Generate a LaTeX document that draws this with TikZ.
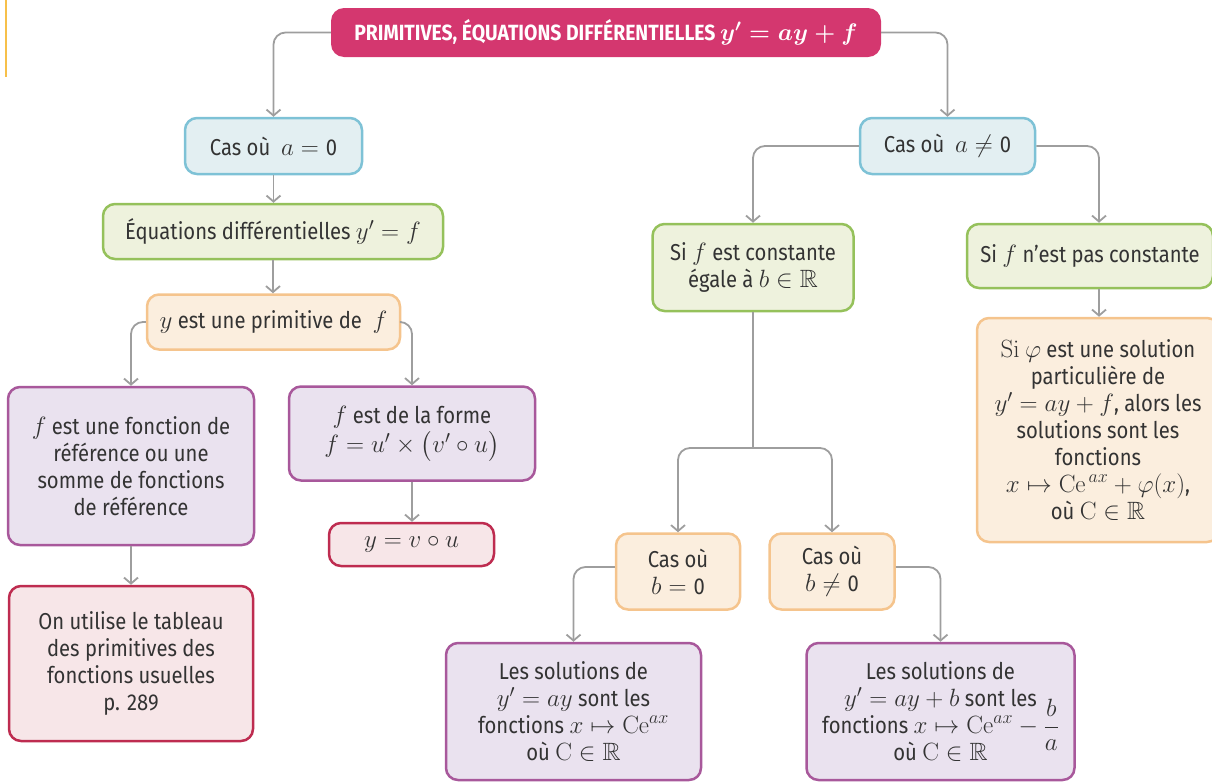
\RequirePackage{fix-cm}
\documentclass[tikz,border=0pt]{standalone}
\usepackage{amsmath,amssymb}
\usepackage{fontspec}
\setmainfont{Fira Sans}[FakeStretch=0.88]
\usetikzlibrary{arrows.meta}
\DeclareMathAlphabet{\mathcm}{OT1}{cmr}{m}{n}
\DeclareMathSizes{23}{25}{18}{14}
\DeclareMathSizes{22}{24}{17}{13}
\definecolor{titleF}{HTML}{D4376F}
\definecolor{blueF}{HTML}{E3EFF2}
\definecolor{blueB}{HTML}{7EC2D6}
\definecolor{greenF}{HTML}{EEF2DD}
\definecolor{greenB}{HTML}{95C15B}
\definecolor{orangeF}{HTML}{FBEEDE}
\definecolor{orangeB}{HTML}{F5C48D}
\definecolor{purpleF}{HTML}{EAE2EF}
\definecolor{purpleB}{HTML}{A8589B}
\definecolor{pinkF}{HTML}{F7E6E8}
\definecolor{pinkB}{HTML}{BE2C50}
\definecolor{arrowC}{HTML}{9E9E9E}
\definecolor{txt}{HTML}{333333}
\definecolor{yellowL}{HTML}{F7C04A}
\tikzset{
  mybox/.style={rounded corners=12pt, line width=2.5pt, align=center, text=txt,
    font=\fontsize{23}{27}\selectfont, inner sep=0pt},
  bluebox/.style={mybox, draw=blueB, fill=blueF},
  greenbox/.style={mybox, draw=greenB, fill=greenF},
  orangebox/.style={mybox, draw=orangeB, fill=orangeF},
  purplebox/.style={mybox, draw=purpleB, fill=purpleF},
  pinkbox/.style={mybox, draw=pinkB, fill=pinkF},
  titlebox/.style={rounded corners=13pt, fill=titleF, text=white, align=center,
    font=\bfseries\fontsize{22}{26}\selectfont, inner sep=0pt},
  arr/.style={draw=arrowC, line width=1.8pt, rounded corners=12pt,
    -{Straight Barb[length=6pt,width=14pt]}},
  link/.style={draw=arrowC, line width=1.8pt, rounded corners=12pt}
}
\begin{document}
\begin{tikzpicture}[x=1pt,y=-1pt]
\useasboundingbox (0,0) rectangle (1212,782);
\clip (0,0) rectangle (1212,782);
\draw[yellowL, line width=2pt] (6,0) -- (6,77);
\node[titlebox, minimum width=550pt, minimum height=49pt] (title) at (606,32.5) {PRIMITIVES, ÉQUATIONS DIFFÉRENTIELLES $\boldsymbol{y'=ay+f}$};
\node[bluebox, minimum width=177pt, minimum height=56pt] (casA0) at (273.5,146) {Cas où \ $a=\text{0}$};
\node[bluebox, minimum width=175pt, minimum height=56pt] (casAn) at (947.5,146) {Cas où \ $a\neq\text{0}$};
\node[greenbox, minimum width=340pt, minimum height=55pt] (equa) at (273,231.5) {Équations différentielles $y'=f$};
\node[orangebox, minimum width=253pt, minimum height=55pt] (prim) at (273.5,322) {$y$ est une primitive de \ $f$};
\node[purplebox, minimum width=246pt, minimum height=158pt] (fref) at (131,466) {$f$ est une fonction de\\référence ou une\\somme de fonctions\\de référence};
\node[purplebox, minimum width=246pt, minimum height=94pt] (fform) at (412,433.5) {$f$ est de la forme\\[2pt]$f=u'\times\big(v'\circ u\big)$};
\node[pinkbox, minimum width=165pt, minimum height=43pt] (yvu) at (411.5,544.5) {$y=v\circ u$};
\node[pinkbox, minimum width=244pt, minimum height=155pt] (tab) at (131,663.5) {On utilise le tableau\\des primitives des\\fonctions usuelles\\p. 289};
\node[greenbox, minimum width=201pt, minimum height=87pt] (fconst) at (753,267.5) {Si $f$ est constante\\égale à $b\in\mathbb{R}$};
\node[greenbox, minimum width=246pt, minimum height=64pt] (fnon) at (1090,256) {Si $f$ n'est pas constante};
\node[orangebox, minimum width=242pt, minimum height=224pt] (phi) at (1098,430) {$\mathcm{Si}\ \varphi$ est une solution\\particulière de\\$y'=ay+f$, alors les\\solutions sont les\\fonctions\\$x\mapsto\mathcm{Ce}^{\,ax}+\varphi(x)$,\\où $\mathcm{C}\in\mathbb{R}$};
\node[orangebox, minimum width=124pt, minimum height=76pt] (b0) at (678,571.5) {Cas où\\$b=\text{0}$};
\node[orangebox, minimum width=125pt, minimum height=76pt] (bn) at (832,571.5) {Cas où\\$b\neq\text{0}$};
\node[purplebox, minimum width=255pt, minimum height=137pt] (sol1) at (573.5,711.5) {Les solutions de\\$y'=ay$ sont les\\fonctions $x\mapsto\mathcm{Ce}^{ax}$\\où $\mathcm{C}\in\mathbb{R}$};
\node[purplebox, minimum width=268pt, minimum height=137pt] (sol2) at (940.5,711.5) {Les solutions de\\$y'=ay+b$ sont les\\fonctions $x\mapsto\mathcm{Ce}^{ax}-\smash{\dfrac{b}{a}}$\\où $\mathcm{C}\in\mathbb{R}$};
\coordinate (j) at (753,448);
\coordinate (fnonT) at ([xshift=9pt]fnon.north);
\coordinate (fnonB) at ([xshift=9pt]fnon.south);
\coordinate (b0L) at ([yshift=4.5pt]b0.west);
\coordinate (bnR) at ([yshift=4.5pt]bn.east);
\draw[arr] (title.west) -| (casA0.north);
\draw[arr] (title.east) -| (casAn.north);
\draw[arr] (casA0.south) -- (casA0.south |- equa.north);
\draw[arr] (equa.south) -- (equa.south |- prim.north);
\draw[arr] (prim.west) -| (fref.north);
\draw[arr] (prim.east) -| (fform.north);
\draw[arr] (fref.south) -- (tab.north);
\draw[arr] (fform.south) -- (fform.south |- yvu.north);
\draw[arr] (casAn.west) -| (fconst.north);
\draw[arr] (casAn.east) -| (fnonT);
\draw[arr] (fnonB) -- (fnonB |- phi.north);
\draw[link] (fconst.south) -- (j);
\draw[arr] (j) -| (b0.north);
\draw[arr] (j) -| (bn.north);
\draw[arr] (b0L) -| (sol1.north);
\draw[arr] (bnR) -| (sol2.north);
\end{tikzpicture}
\end{document}
